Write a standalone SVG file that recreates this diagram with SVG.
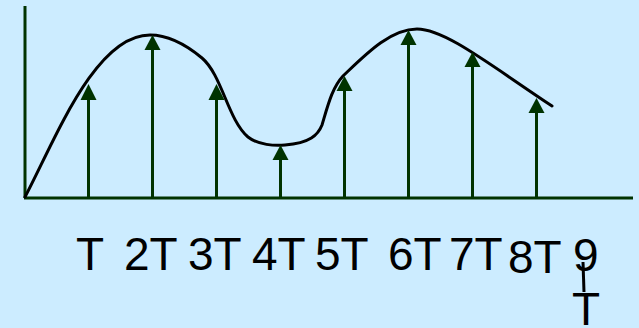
<svg xmlns="http://www.w3.org/2000/svg" width="639" height="328" viewBox="0 0 639 328">
<defs>
<style>
.axis{stroke:#003300;stroke-width:3;fill:none}
.stem{stroke:#003300;stroke-width:3}
.head{fill:#003300}
.curve{stroke:#000;stroke-width:3;fill:none;stroke-linecap:round}
.lbl{font-family:"Liberation Sans",Arial,sans-serif;font-size:46px;fill:#000}
</style>
</defs>
<rect width="639" height="328" fill="#CCECFF"/>
<g id="axes">
<line class="axis" x1="25" y1="6" x2="25" y2="198"/>
<line class="axis" x1="24" y1="198" x2="633" y2="198"/>
</g>
<g id="curve">
<path class="curve" d="M25,197 C55,140 95,35 150,35 C170,35 190,48 202,58 C222,75 228,120 248,137 C258,145 275,146 285,145 C310,143 318,135 322,125 C328,105 332,88 343,76 C365,55 390,29 417,29 C445,29 490,65 552,106"/>
</g>
<g id="connectors">
<g id="s1"><line class="stem" x1="88.5" y1="197" x2="88.5" y2="98"/><polygon class="head" points="88.5,84 80.5,100 96.5,100"/></g>
<g id="s2"><line class="stem" x1="152.5" y1="197" x2="152.5" y2="48"/><polygon class="head" points="152.5,35 144.5,50 160.5,50"/></g>
<g id="s3"><line class="stem" x1="216.5" y1="197" x2="216.5" y2="98"/><polygon class="head" points="216.5,84 208.5,100 224.5,100"/></g>
<g id="s4"><line class="stem" x1="280.5" y1="197" x2="280.5" y2="158"/><polygon class="head" points="280.5,145 272.5,160 288.5,160"/></g>
<g id="s5"><line class="stem" x1="344.5" y1="197" x2="344.5" y2="89"/><polygon class="head" points="344.5,76 336.5,91 352.5,91"/></g>
<g id="s6"><line class="stem" x1="408.5" y1="197" x2="408.5" y2="43"/><polygon class="head" points="408.5,30 400.5,45 416.5,45"/></g>
<g id="s7"><line class="stem" x1="472.5" y1="197" x2="472.5" y2="65"/><polygon class="head" points="472.5,52 464.5,67 480.5,67"/></g>
<g id="s8"><line class="stem" x1="536.5" y1="197" x2="536.5" y2="111"/><polygon class="head" points="536.5,98 528.5,113 544.5,113"/></g>
</g>
<g id="labels">
<text class="lbl" x="76" y="270">T</text>
<text class="lbl" x="124" y="270">2T</text>
<text class="lbl" x="188" y="270">3T</text>
<text class="lbl" x="252" y="270">4T</text>
<text class="lbl" x="315" y="270">5T</text>
<text class="lbl" x="388" y="270">6T</text>
<text class="lbl" x="449" y="270">7T</text>
<text class="lbl" x="508" y="273">8T</text>
<text class="lbl" x="573" y="271">9</text>
<line x1="583" y1="262" x2="584" y2="292" stroke="#000" stroke-width="3"/>
<text class="lbl" x="572" y="325">T</text>
</g>
</svg>
